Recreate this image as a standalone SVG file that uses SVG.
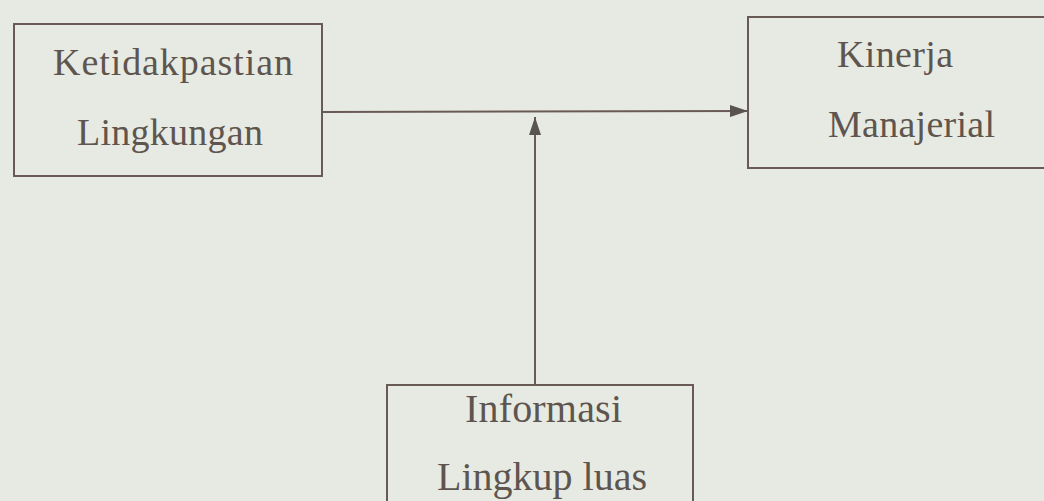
<svg xmlns="http://www.w3.org/2000/svg" width="1044" height="501" viewBox="0 0 1044 501">
  <defs>
    <style>
      .box { fill: none; stroke: #6a5a56; stroke-width: 2; }
      .lbl { font-family: "Liberation Serif", "Times New Roman", serif; font-size: 38px; fill: #5e554f; }
      .lbl2 { font-family: "Liberation Serif", "Times New Roman", serif; font-size: 40px; fill: #5e554f; }
      .conn { fill: none; stroke: #6a5a56; stroke-width: 2; }
    </style>
    <marker id="arrow" viewBox="0 0 18 12" refX="18" refY="6" markerWidth="18" markerHeight="12" markerUnits="userSpaceOnUse" orient="auto">
      <path d="M0,0 L18,6 L0,12 Z" fill="#5a5450"/>
    </marker>
  </defs>
  <rect width="1044" height="501" fill="#e7eae2"/>
  <g id="connectors">
    <line class="conn" x1="322" y1="112" x2="748" y2="111" marker-end="url(#arrow)"/>
    <line class="conn" x1="535" y1="385" x2="535" y2="117" marker-end="url(#arrow)"/>
  </g>
  <g id="node-ketidakpastian">
    <rect class="box" x="14" y="24" width="308" height="152"/>
    <text class="lbl" x="53" y="75" textLength="240">Ketidakpastian</text>
    <text class="lbl" x="77" y="145" textLength="186">Lingkungan</text>
  </g>
  <g id="node-kinerja">
    <rect class="box" x="748" y="17" width="310" height="151"/>
    <text class="lbl" x="837" y="67" textLength="116">Kinerja</text>
    <text class="lbl" x="828" y="137" textLength="167">Manajerial</text>
  </g>
  <g id="node-informasi">
    <rect class="box" x="387" y="385" width="306" height="130"/>
    <text class="lbl2" x="465" y="422" textLength="157">Informasi</text>
    <text class="lbl2" x="437" y="490" textLength="210">Lingkup luas</text>
  </g>
</svg>
